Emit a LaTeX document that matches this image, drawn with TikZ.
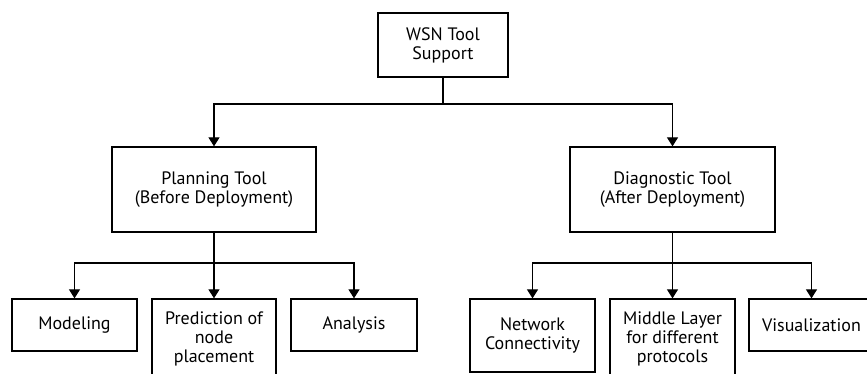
\documentclass[tikz,border=0pt]{standalone}
\usepackage{fontspec}
\setmainfont{PT Sans}
\usetikzlibrary{arrows.meta,shadows}
\begin{document}
\begin{tikzpicture}[x=1pt,y=-1pt,
  box/.style={draw=black,line width=1.3pt,fill=white,align=center,
    inner sep=2pt,font=\fontsize{18}{19}\selectfont,
    drop shadow={shadow xshift=1.2pt,shadow yshift=-1.2pt,fill=black!45,opacity=1}},
  link/.style={line width=1.2pt},
  arr/.style={link,-{Triangle[width=11pt,length=9pt]}}]
\path[use as bounding box] (0,0) rectangle (867,374);
\begin{scope}
\clip (0,0) rectangle (867,374);
% root
\node[box,minimum width=130pt,minimum height=64pt] (root) at (443,45) {WSN Tool\\Support};
% second level
\node[box,minimum width=204pt,minimum height=85pt] (plan) at (214,189.5) {Planning Tool\\(Before Deployment)};
\node[box,minimum width=205pt,minimum height=85pt] (diag) at (672.5,189.5) {Diagnostic Tool\\(After Deployment)};
% planning leaves
\node[box,minimum width=125pt,minimum height=52pt] (model) at (74.5,325) {Modeling};
\node[box,minimum width=124pt,minimum height=80pt] (pred) at (214,339) {Prediction of\\node\\placement};
\node[box,minimum width=126pt,minimum height=52pt] (anal) at (354,325) {Analysis};
% diagnostic leaves
\node[box,minimum width=125pt,minimum height=73pt] (net) at (532.5,335.5) {Network\\Connectivity};
\node[box,minimum width=125pt,minimum height=80pt] (mid) at (672.5,339) {Middle Layer\\for different\\protocols};
\node[box,minimum width=125pt,minimum height=52pt] (vis) at (811.5,325) {Visualization};
% junctions
\coordinate (j0) at (root.south |- 0,104);
\coordinate (j1) at (plan.south |- 0,263);
\coordinate (j2) at (diag.south |- 0,263);
\draw[link] (root.south) -- (j0);
\draw[arr] (j0) -| (plan.north);
\draw[arr] (j0) -| (diag.north);
\draw[link] (plan.south) -- (j1);
\draw[arr] (j1) -| (model.north);
\draw[arr] (j1) -- (pred.north);
\draw[arr] (j1) -| (anal.north);
\draw[link] (diag.south) -- (j2);
\draw[arr] (j2) -| (net.north);
\draw[arr] (j2) -- (mid.north);
\draw[arr] (j2) -| (vis.north);
\end{scope}
\end{tikzpicture}
\end{document}
